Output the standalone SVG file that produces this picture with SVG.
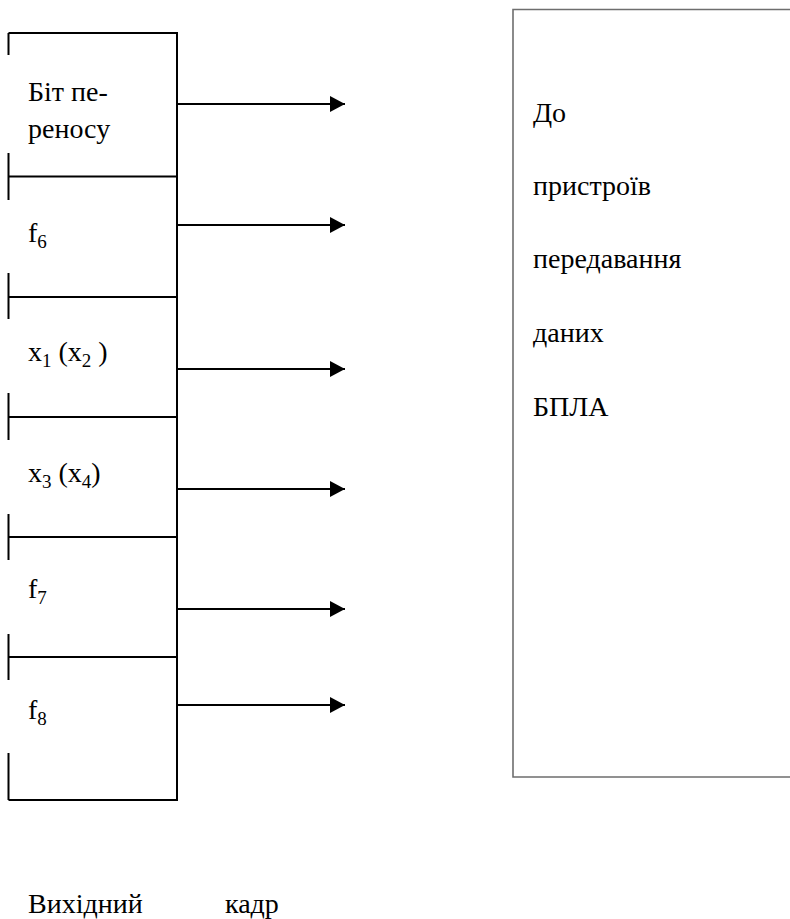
<svg xmlns="http://www.w3.org/2000/svg" width="790" height="919" viewBox="0 0 790 919">
  <style>
    .frame { fill: none; stroke: #000; stroke-width: 2; }
    .dest { fill: none; stroke: #6e6e6e; stroke-width: 1.6; }
    .link { stroke: #000; stroke-width: 2; fill: none; }
    .sub { font-size: 19px; }
  </style>
  <defs>
    <marker id="arrowhead" markerUnits="userSpaceOnUse" markerWidth="16" markerHeight="16" refX="15" refY="8" orient="auto">
      <path d="M0,0 L15,8 L0,16 Z" fill="#000"/>
    </marker>
  </defs>
  <rect width="790" height="919" fill="#fff"/>

  <g font-family="Liberation Serif, Tinos, Times New Roman, Noto Serif, DejaVu Serif, serif" font-size="28" fill="#000">
    <!-- output frame: stacked fields -->
    <g id="frame">
      <path class="frame" d="M8.5,33 H177 V800 H8.5"/>
      <path class="frame" d="M8.5,33 V55 M8.5,153 V200 M8.5,273 V319 M8.5,393 V440 M8.5,514 V560 M8.5,634 V680 M8.5,753 V800"/>
    </g>
    <g id="carry">
      <line class="frame" x1="8.5" y1="176.5" x2="177" y2="176.5"/>
      <text x="28" y="101">Біт пе-</text>
      <text x="28" y="138">реносу</text>
    </g>
    <g id="f6">
      <line class="frame" x1="8.5" y1="297" x2="177" y2="297"/>
      <text x="28" y="242">f<tspan class="sub" dy="6">6</tspan></text>
    </g>
    <g id="x1x2">
      <line class="frame" x1="8.5" y1="417" x2="177" y2="417"/>
      <text x="28" y="361">x<tspan class="sub" dy="6">1</tspan><tspan dy="-6"> (x</tspan><tspan class="sub" dy="6">2</tspan><tspan dy="-6"> )</tspan></text>
    </g>
    <g id="x3x4">
      <line class="frame" x1="8.5" y1="537" x2="177" y2="537"/>
      <text x="28" y="482">x<tspan class="sub" dy="6">3</tspan><tspan dy="-6"> (x</tspan><tspan class="sub" dy="6">4</tspan><tspan dy="-6">)</tspan></text>
    </g>
    <g id="f7">
      <line class="frame" x1="8.5" y1="657" x2="177" y2="657"/>
      <text x="28" y="598">f<tspan class="sub" dy="6">7</tspan></text>
    </g>
    <g id="f8">
      <text x="28" y="719">f<tspan class="sub" dy="6">8</tspan></text>
    </g>

    <!-- receiving devices -->
    <g id="uav-link">
      <path class="dest" d="M791,9.5 H513 V777 H791"/>
      <text x="533" y="122">До</text>
      <text x="533" y="195">пристроїв</text>
      <text x="533" y="268">передавання</text>
      <text x="533" y="342">даних</text>
      <text x="533" y="416">БПЛА</text>
    </g>

    <g id="connectors">
      <line class="link" x1="177" y1="104" x2="345" y2="104" marker-end="url(#arrowhead)"/>
      <line class="link" x1="177" y1="225" x2="345" y2="225" marker-end="url(#arrowhead)"/>
      <line class="link" x1="177" y1="369" x2="345" y2="369" marker-end="url(#arrowhead)"/>
      <line class="link" x1="177" y1="489" x2="345" y2="489" marker-end="url(#arrowhead)"/>
      <line class="link" x1="177" y1="609" x2="345" y2="609" marker-end="url(#arrowhead)"/>
      <line class="link" x1="177" y1="705" x2="345" y2="705" marker-end="url(#arrowhead)"/>
    </g>

    <g id="caption">
      <text x="28" y="913">Вихідний</text>
      <text x="225" y="913">кадр</text>
    </g>
  </g>
</svg>
